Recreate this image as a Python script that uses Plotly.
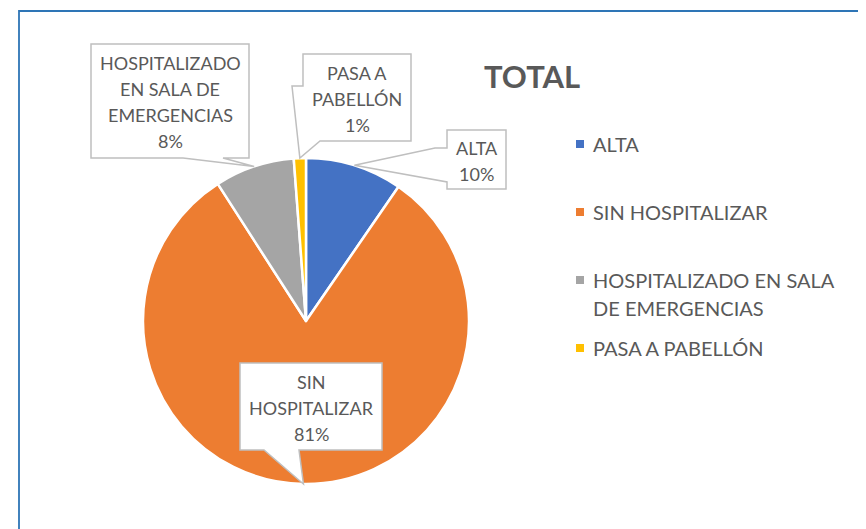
import math
import plotly.graph_objects as go

# ---- data ----
categories = ["ALTA", "SIN HOSPITALIZAR", "HOSPITALIZADO EN SALA DE EMERGENCIAS", "PASA A PABELLÓN"]
values = [9.6, 81.3, 7.9, 1.2]
callout_labels = [["ALTA"], ["SIN", "HOSPITALIZAR"], ["HOSPITALIZADO", "EN SALA DE", "EMERGENCIAS"], ["PASA A", "PABELLÓN"]]
legend_labels = [["ALTA"], ["SIN HOSPITALIZAR"], ["HOSPITALIZADO EN SALA", "DE EMERGENCIAS"], ["PASA A PABELLÓN"]]
colors = ["#4472C4", "#ED7D31", "#A5A5A5", "#FFC000"]
title_text = "TOTAL"

# ---- layout constants (pixels in the 866x529 page) ----
OFF = 8                      # default page body margin
W, H = 866 - OFF, 529 - OFF  # figure size
CX, CY, R = 306, 321, 163
FONT = "Lato"
TXT = "#595959"
BOX_LINE = "#BFBFBF"


def px(x):
    return (x - OFF) / W


def py(y):
    return 1 - (y - OFF) / H


total = sum(values)
pcts = [f"{round(v / total * 100)}%" for v in values]

# slice mid angles -> tip points on circumference
tips = []
cum = 0
for v in values:
    mid = (cum + v / 2) / total * 2 * math.pi
    tips.append((CX + R * math.sin(mid), CY - R * math.cos(mid)))
    cum += v

fig = go.Figure()
fig.add_trace(go.Pie(
    labels=categories,
    values=values,
    sort=False,
    direction="clockwise",
    rotation=0,
    textinfo="none",
    hoverinfo="label+percent",
    showlegend=False,
    marker=dict(colors=colors, line=dict(color="white", width=2.5)),
    domain=dict(x=[px(CX - R), px(CX + R)], y=[py(CY + R), py(CY - R)]),
))

shapes = []
# outer chart border
shapes.append(dict(type="rect", xref="paper", yref="paper",
                   x0=px(19), x1=px(866 + 10), y0=py(529 + 10), y1=py(11),
                   line=dict(color="#2E75B6", width=1.8), fillcolor="rgba(0,0,0,0)", layer="below"))


def path(points):
    return "M " + " L ".join(f"{px(x):.5f},{py(y):.5f}" for x, y in points) + " Z"


# callout boxes: (box x0, y0, x1, y1) and outline polygon with the tail
callouts = {
    0: dict(box=(447, 130, 506, 189),
            poly=lambda t: [(447, 130), (506, 130), (506, 189), (447, 189), (447, 182), t, (435, 148), (447, 148)]),
    1: dict(box=(240, 363, 382, 450),
            poly=lambda t: [(240, 363), (382, 363), (382, 450), (299, 450), t, (264, 450), (240, 450)]),
    2: dict(box=(91, 44, 249, 158),
            poly=lambda t: [(91, 44), (249, 44), (249, 158), (223, 158), t, (183, 158), (91, 158)]),
    3: dict(box=(303, 54, 411, 141),
            poly=lambda t: [(303, 54), (411, 54), (411, 141), (320, 141), t, (292, 86), (303, 86)]),
}

annotations = []
LS_CALL = 26
for i, c in callouts.items():
    tip = tips[i]
    shapes.append(dict(type="path", xref="paper", yref="paper", path=path(c["poly"](tip)),
                       fillcolor="white", line=dict(color=BOX_LINE, width=1.5)))
    x0, y0, x1, y1 = c["box"]
    lines = callout_labels[i] + [pcts[i]]
    yc = (y0 + y1) / 2 + 1
    for k, ln in enumerate(lines):
        y = yc + (k - (len(lines) - 1) / 2) * LS_CALL
        annotations.append(dict(xref="paper", yref="paper", x=px((x0 + x1) / 2), y=py(y),
                                text=ln, showarrow=False,
                                xanchor="center", yanchor="middle", align="center",
                                font=dict(family=FONT, size=18, color=TXT)))

# title
annotations.append(dict(xref="paper", yref="paper", x=px(532), y=py(76), text=f"<b>{title_text}</b>",
                        showarrow=False, xanchor="center", yanchor="middle",
                        font=dict(family=FONT, size=31, color=TXT)))

# legend (manual)
leg_y = [144, 212, 280, 348]
LS_LEG = 28
for i, lab in enumerate(legend_labels):
    y = leg_y[i]
    shapes.append(dict(type="rect", xref="paper", yref="paper",
                       x0=px(576), x1=px(584), y0=py(y + 4), y1=py(y - 4),
                       fillcolor=colors[i], line=dict(width=0)))
    for k, ln in enumerate(lab):
        annotations.append(dict(xref="paper", yref="paper", x=px(591), y=py(y + k * LS_LEG), text=ln,
                                showarrow=False, xanchor="left", yanchor="middle", align="left",
                                font=dict(family=FONT, size=20, color=TXT)))

fig.update_layout(
    width=W, height=H,
    margin=dict(l=0, r=0, t=0, b=0),
    paper_bgcolor="white", plot_bgcolor="white",
    shapes=shapes, annotations=annotations,
    showlegend=False,
)
fig.write_html("out.html")
